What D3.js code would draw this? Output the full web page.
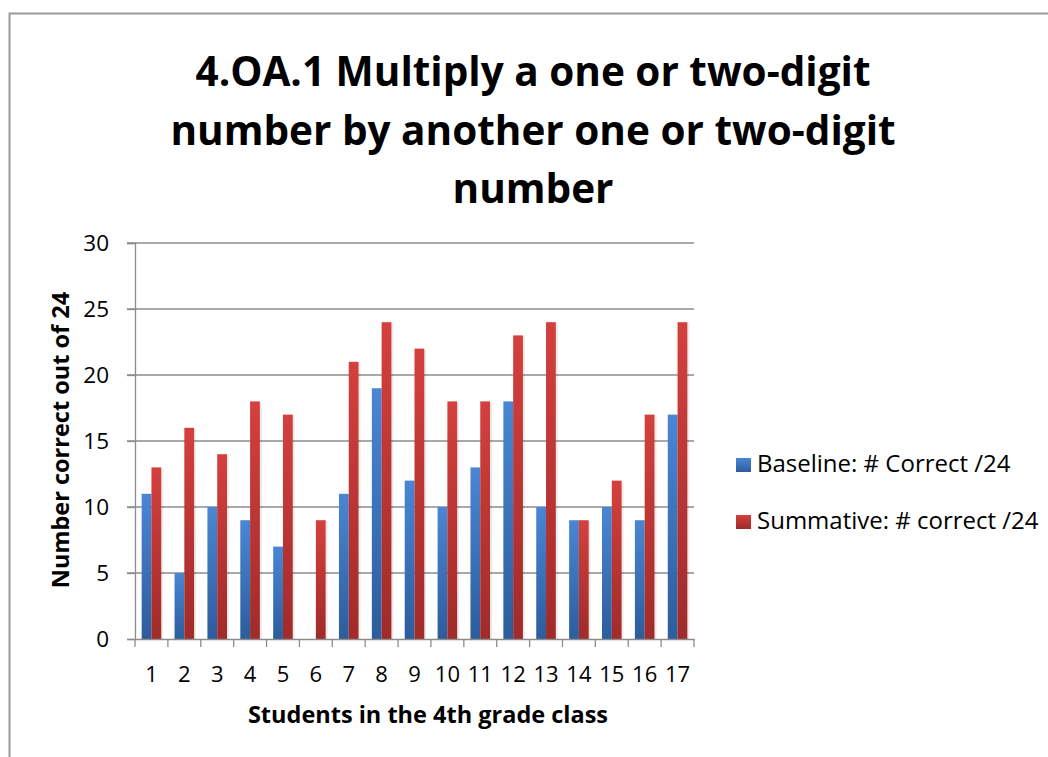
<!DOCTYPE html>
<html>
<head>
<meta charset="utf-8">
<script src="https://cdn.jsdelivr.net/npm/d3@7"></script>
<style>
  body { margin: 0; background: #fff; }
  svg { display: block; font-family: "Open Sans", "Noto Sans", sans-serif; }
</style>
</head>
<body>
<svg id="chart" width="1048" height="757"></svg>
<script>
const students = ["1","2","3","4","5","6","7","8","9","10","11","12","13","14","15","16","17"];
const baseline = [11, 5, 10, 9, 7, 0, 11, 19, 12, 10, 13, 18, 10, 9, 10, 9, 17];
const summative = [13, 16, 14, 18, 17, 9, 21, 24, 22, 18, 18, 23, 24, 9, 12, 17, 24];
const seriesNames = ["Baseline: # Correct /24", "Summative: # correct /24"];
const yTicks = [0, 5, 10, 15, 20, 25, 30];
const titleLines = ["4.OA.1 Multiply a one or two-digit", "number by another one or two-digit", "number"];

const svg = d3.select('#chart');
const margin = { left: 135, right: 354, top: 243, bottom: 118 };
const W = 1048, H = 757;

// gradients, Excel 2007 style
const defs = svg.append('defs');
const swatch = [['#4a86d4', '#2c5d9c'], ['#d4403d', '#a02b2a']];
swatch.forEach((c, i) => {
  const lg = defs.append('linearGradient').attr('id', 'g' + i)
    .attr('x1', 0).attr('y1', 0).attr('x2', 0).attr('y2', 1);
  lg.append('stop').attr('offset', '0%').attr('stop-color', c[0]);
  lg.append('stop').attr('offset', '100%').attr('stop-color', c[1]);
});

// outer border (cropped on right/bottom)
svg.append('rect')
  .attr('x', 9.5).attr('y', 13.5)
  .attr('width', W + 20).attr('height', H + 20)
  .attr('fill', 'none').attr('stroke', '#9a9a9a').attr('stroke-width', 2);

const x = d3.scaleBand().domain(students)
  .range([margin.left, W - margin.right]);
const inner = d3.scaleBand().domain([0, 1])
  .range([0, x.bandwidth()]).paddingOuter(0.68);
const y = d3.scaleLinear().domain([0, 30])
  .range([H - margin.bottom, margin.top]);

// gridlines
svg.append('g')
  .selectAll('line').data(yTicks.slice(1)).enter().append('line')
  .attr('x1', margin.left - 8).attr('x2', W - margin.right)
  .attr('y1', d => y(d)).attr('y2', d => y(d))
  .attr('stroke', '#8c8c8c').attr('stroke-width', 1.3);

// bars
const rows = students.map((s, i) => ({ s, vals: [baseline[i], summative[i]] }));
const groups = svg.append('g').selectAll('g').data(rows).enter().append('g')
  .attr('transform', d => `translate(${x(d.s)},0)`);

// faint shadow
groups.selectAll('.sh').data(d => d.vals.map((v, k) => ({ v, k }))).enter()
  .append('rect').attr('class', 'sh')
  .attr('x', d => inner(d.k) + 2)
  .attr('width', inner.bandwidth())
  .attr('y', d => y(d.v) + 1)
  .attr('height', d => Math.max(0, y(0) - y(d.v) - 1))
  .attr('fill', '#000').attr('opacity', 0.08);

groups.selectAll('.bar').data(d => d.vals.map((v, k) => ({ v, k }))).enter()
  .append('rect').attr('class', 'bar')
  .attr('x', d => inner(d.k))
  .attr('width', inner.bandwidth())
  .attr('y', d => y(d.v))
  .attr('height', d => y(0) - y(d.v))
  .attr('fill', d => `url(#g${d.k})`);

// y axis
const yAxis = svg.append('g')
  .attr('transform', `translate(${margin.left},0)`)
  .call(d3.axisLeft(y).tickValues(yTicks).tickSize(8).tickPadding(18));
yAxis.select('.domain').attr('stroke', '#8c8c8c').attr('stroke-width', 1.3);
yAxis.selectAll('.tick line').attr('stroke', '#8c8c8c').attr('stroke-width', 1.3);
yAxis.selectAll('.tick text').attr('font-size', 22.5).attr('fill', '#000')
  .attr('font-family', '"Open Sans", sans-serif');

// x axis
const xAxis = svg.append('g')
  .attr('transform', `translate(0,${y(0)})`)
  .call(d3.axisBottom(x).tickSize(0).tickPadding(27));
xAxis.select('.domain').attr('stroke', '#8c8c8c').attr('stroke-width', 1.3);
xAxis.selectAll('.tick text').attr('font-size', 22).attr('fill', '#000')
  .attr('font-family', '"Open Sans", sans-serif');
// tick marks between categories
const bounds = students.map(s => x(s)).concat([x(students[students.length - 1]) + x.bandwidth()]);
xAxis.selectAll('.bt').data(bounds).enter().append('line')
  .attr('x1', d => d).attr('x2', d => d)
  .attr('y1', 0).attr('y2', 8)
  .attr('stroke', '#8c8c8c').attr('stroke-width', 1.3);

// axis titles
svg.append('text')
  .attr('x', 428).attr('y', 723)
  .attr('text-anchor', 'middle').attr('font-weight', 'bold').attr('font-size', 23.5)
  .text('Students in the 4th grade class');
svg.append('text')
  .attr('transform', `translate(69,440) rotate(-90)`)
  .attr('text-anchor', 'middle').attr('font-weight', 'bold').attr('font-size', 23.5)
  .text('Number correct out of 24');

// title
svg.append('text')
  .attr('text-anchor', 'middle').attr('font-weight', 'bold').attr('font-size', 40.5)
  .selectAll('tspan').data(titleLines).enter().append('tspan')
  .attr('x', 533).attr('y', (d, i) => 86 + i * 58.5)
  .text(d => d);

// legend
const legend = svg.append('g').attr('transform', 'translate(736,0)');
seriesNames.forEach((name, i) => {
  const gy = 458 + i * 57;
  legend.append('rect').attr('x', 0).attr('y', gy).attr('width', 15).attr('height', 14)
    .attr('fill', `url(#g${i})`);
  legend.append('text').attr('x', 21).attr('y', gy + 14)
    .attr('font-size', 24).text(name);
});
</script>
</body>
</html>
